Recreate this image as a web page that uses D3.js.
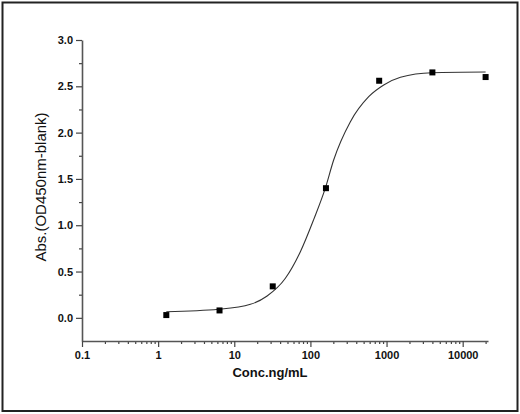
<!DOCTYPE html>
<html>
<head>
<meta charset="utf-8">
<script src="https://cdn.jsdelivr.net/npm/d3@7"></script>
<style>
  body { margin: 0; background: #fff; }
  svg { display: block; font-family: "Liberation Sans", Arial, sans-serif; }
</style>
</head>
<body>
<div id="chart"></div>
<script>
// measured points (conc ng/mL, OD)
const conc = [1.28, 6.4, 32, 160, 800, 4000, 20000];
const od = [0.03, 0.08, 0.34, 1.40, 2.56, 2.65, 2.60];

// fitted curve
const fitConc = [1.28, 6.24, 16.3, 27, 46.9, 73.8, 110, 157, 202, 335, 583, 918, 1523, 3970, 20000];
const fitOd = [0.066, 0.092, 0.146, 0.236, 0.427, 0.714, 1.058, 1.40, 1.704, 2.118, 2.388, 2.514, 2.597, 2.647, 2.654];

const xTicks = [0.1, 1, 10, 100, 1000, 10000];
const yTicks = [0.0, 0.5, 1.0, 1.5, 2.0, 2.5, 3.0];

const W = 520, H = 414;
const MARGIN = { LEFT: 82, RIGHT: 32, TOP: 40, BOTTOM: 73 };

const svg = d3.select("#chart").append("svg")
    .attr("width", W)
    .attr("height", H)

// outer frame
svg.append("rect")
    .attr("x", 2.5).attr("y", 2.5)
    .attr("width", 515).attr("height", 408.5)
    .attr("fill", "none")
    .attr("stroke", "#222")
    .attr("stroke-width", 2)

const x = d3.scaleLog()
    .domain([0.1, 21500])
    .range([MARGIN.LEFT, W - MARGIN.RIGHT])

const y = d3.scaleLinear()
    .domain([-0.25, 3.0])
    .range([H - MARGIN.BOTTOM, MARGIN.TOP])

// minor ticks
const xMinor = [];
xTicks.forEach(t => { for (let k = 2; k <= 9; k++) if (t * k <= 21500) xMinor.push(t * k) });
const yMinor = d3.range(-0.25, 3.0, 0.5).map(v => +v.toFixed(2)).concat([]);

const xAxisGroup = svg.append("g")
    .attr("transform", `translate(0, ${y(-0.25)})`)
xAxisGroup.call(d3.axisBottom(x).tickValues(xMinor).tickSize(3).tickFormat(""))
xAxisGroup.call(g => g.select(".domain").remove())
const xMajor = svg.append("g")
    .attr("transform", `translate(0, ${y(-0.25)})`)
    .call(d3.axisBottom(x).tickValues(xTicks).tickSize(6).tickSizeOuter(0).tickPadding(4)
        .tickFormat(d => String(d)))

const yMinorGroup = svg.append("g")
    .attr("transform", `translate(${MARGIN.LEFT}, 0)`)
    .call(d3.axisLeft(y).tickValues(yMinor.filter(v => v > -0.25)).tickSize(3).tickFormat(""))
yMinorGroup.select(".domain").remove()
const yMajor = svg.append("g")
    .attr("transform", `translate(${MARGIN.LEFT}, 0)`)
    .call(d3.axisLeft(y).tickValues(yTicks).tickSize(6).tickSizeOuter(0).tickPadding(3)
        .tickFormat(d3.format(".1f")))

svg.selectAll(".domain").attr("stroke", "#555").attr("stroke-width", 1.6)
svg.selectAll(".tick line").attr("stroke", "#444").attr("stroke-width", 1.2)
svg.selectAll(".tick text")
    .attr("font-size", "11px")
    .attr("font-weight", "bold")
    .attr("fill", "#111")

// axis labels
svg.append("text")
    .attr("x", 270)
    .attr("y", 377)
    .attr("text-anchor", "middle")
    .attr("font-size", "13px")
    .attr("font-weight", "bold")
    .attr("fill", "#111")
    .text("Conc.ng/mL")

svg.append("text")
    .attr("transform", "translate(46, 187) rotate(-90)")
    .attr("text-anchor", "middle")
    .attr("font-size", "15px")
    .attr("fill", "#111")
    .text("Abs.(OD450nm-blank)")

// fitted curve
const line = d3.line()
    .x((d, i) => x(fitConc[i]))
    .y((d, i) => y(fitOd[i]))
    .curve(d3.curveMonotoneX)

svg.append("path")
    .datum(fitOd)
    .attr("d", line)
    .attr("fill", "none")
    .attr("stroke", "#333")
    .attr("stroke-width", 1.1)

// data points
const S = 6;
svg.selectAll("rect.pt")
    .data(od)
    .enter().append("rect")
    .attr("class", "pt")
    .attr("x", (d, i) => x(conc[i]) - S / 2)
    .attr("y", d => y(d) - S / 2)
    .attr("width", S)
    .attr("height", S)
    .attr("fill", "#000")
</script>
</body>
</html>
